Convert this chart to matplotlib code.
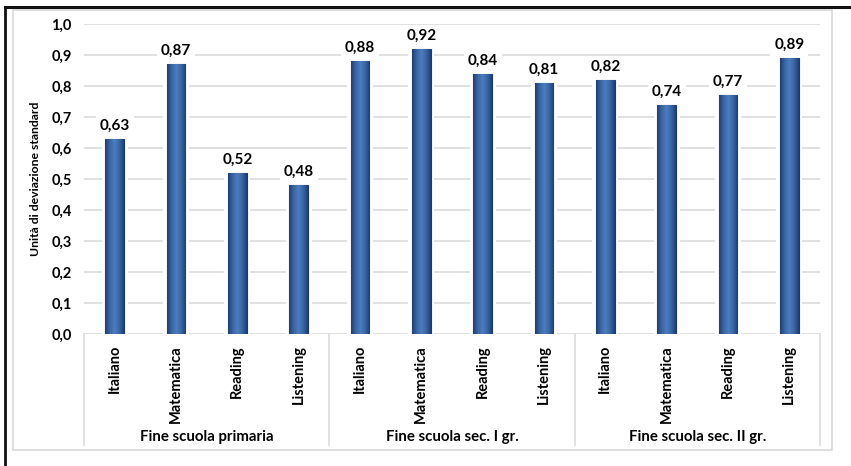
import numpy as np
import matplotlib
matplotlib.use("Agg")
import matplotlib.pyplot as plt
from matplotlib.colors import LinearSegmentedColormap
from matplotlib.lines import Line2D
from matplotlib.patches import Rectangle

plt.rcParams["font.family"] = ["Lato", "DejaVu Sans"]
plt.rcParams["font.weight"] = "bold"

groups = ["Fine scuola primaria", "Fine scuola sec. I gr.", "Fine scuola sec. II gr."]
subjects = ["Italiano", "Matematica", "Reading", "Listening"]
primaria = [0.63, 0.87, 0.52, 0.48]
sec_primo = [0.88, 0.92, 0.84, 0.81]
sec_secondo = [0.82, 0.74, 0.77, 0.89]
y_ticks = [0.0, 0.1, 0.2, 0.3, 0.4, 0.5, 0.6, 0.7, 0.8, 0.9, 1.0]

values = primaria + sec_primo + sec_secondo
labels = subjects * len(groups)
x = np.arange(len(values))

fig = plt.figure(figsize=(8.51, 4.66), dpi=100)
ax = fig.add_axes([84 / 851, 132 / 466, 736 / 851, 310 / 466])

# outer frames
fig.add_artist(Rectangle((13 / 851, 16 / 466), 819 / 851, 440 / 466, transform=fig.transFigure,
                         fill=False, edgecolor="#d9d9d9", linewidth=1.2))
fig.add_artist(Line2D([5 / 851, 5 / 851], [0, 459 / 466], transform=fig.transFigure,
                      color="#111111", linewidth=2))
fig.add_artist(Line2D([5 / 851, 1], [459 / 466, 459 / 466], transform=fig.transFigure,
                      color="#111111", linewidth=2.2))

ax.set_ylim(0, 1.0)
ax.set_yticks(y_ticks)
ax.set_yticklabels([f"{t:.1f}".replace(".", ",") for t in y_ticks], fontsize=10.5, fontweight="bold")
ax.set_xticks(x)
ax.set_xticklabels(labels, rotation=90, fontsize=10.5, fontweight="bold")
ax.tick_params(axis="both", length=0)
ax.tick_params(axis="y", pad=9)
ax.tick_params(axis="x", pad=8)
for s in ax.spines.values():
    s.set_visible(False)
ax.grid(axis="y", color="#d9d9d9", linewidth=1.1)
ax.set_axisbelow(True)
ax.set_ylabel("Unità di deviazione standard", fontsize=8.8, fontweight="bold", labelpad=7)

# white halo behind bars, then gradient bars
ax.bar(x, values, width=0.42, color="white", edgecolor="white", linewidth=0, zorder=2)
bars = ax.bar(x, values, width=0.3, color="#2f5b97", edgecolor="#1a3a6c", linewidth=0.8, zorder=3)
cmap = LinearSegmentedColormap.from_list("bar", ["#1d3f75", "#3a66a5", "#4d7dbe", "#3a66a5", "#1d3f75"])
grad = np.linspace(0, 1, 64).reshape(1, -1)
for b in bars:
    x0, y0 = b.get_x(), b.get_y()
    im = ax.imshow(grad, extent=[x0, x0 + b.get_width(), y0, y0 + b.get_height()],
                   cmap=cmap, aspect="auto", zorder=3.5)
    im.set_clip_path(b)

for xi, v in zip(x, values):
    ax.annotate(f"{v:.2f}".replace(".", ","), (xi, v), xytext=(0, 4.5), textcoords="offset points",
                ha="center", va="bottom", fontsize=11, fontweight="bold", zorder=5,
                bbox=dict(boxstyle="square,pad=0.25", facecolor="white", edgecolor="none"))

# group labels and separators under the axis
trans = ax.get_xaxis_transform()
n = len(subjects)
for i, g in enumerate(groups):
    ax.text(i * n + (n - 1) / 2, -0.332, g, transform=trans, ha="center", va="center",
            fontsize=10.8, fontweight="bold")
for b in range(len(groups) + 1):
    ax.plot([b * n - 0.5, b * n - 0.5], [0, -0.358], transform=trans, color="#d9d9d9",
            linewidth=1.1, clip_on=False)

# imshow resets limits, so set them again
ax.set_xlim(-0.5, len(values) - 0.5)
ax.set_ylim(0, 1.0)
ax.set_aspect("auto")

fig.savefig("out.png", dpi=100)
